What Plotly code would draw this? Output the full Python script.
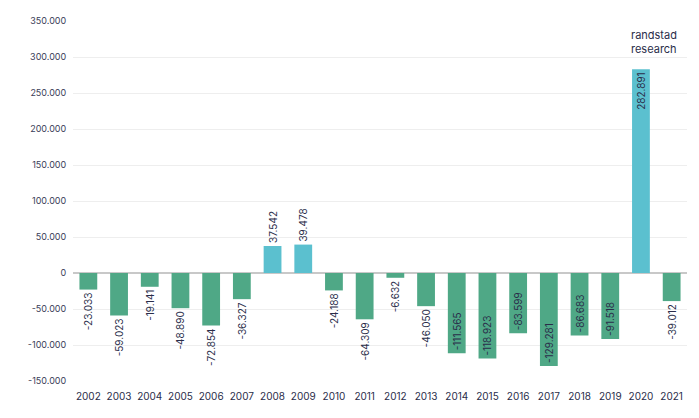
import plotly.graph_objects as go

years = [str(y) for y in range(2002, 2022)]
values = [-23033, -59023, -19141, -48890, -72854, -36327, 37542, 39478, -24188, -64309,
          -6632, -46050, -111565, -118923, -83599, -129281, -86683, -91518, 282891, -39012]
tick_vals = [-150000, -100000, -50000, 0, 50000, 100000, 150000, 200000, 250000, 300000, 350000]

GREEN = "#4fa886"
CYAN = "#5bc0cf"
TEXT = "#2a2d4a"

def fmt(v):
    s = f"{abs(v):,}".replace(",", ".")
    return ("-" if v < 0 else "") + s

colors = [CYAN if v > 0 else GREEN for v in values]
labels = [fmt(v) for v in values]
positions = ["inside" if abs(v) > 80000 else "outside" for v in values]

fig = go.Figure(go.Bar(
    x=years, y=values,
    marker=dict(color=colors, line=dict(width=0)),
    text=labels, textposition=positions, textangle=-90,
    insidetextanchor="end", constraintext="none",
    textfont=dict(family="Inter, sans-serif", size=10, color=TEXT),
    insidetextfont=dict(family="Inter, sans-serif", size=10, color=TEXT),
    outsidetextfont=dict(family="Inter, sans-serif", size=10, color=TEXT),
    cliponaxis=False,
))

fig.update_layout(
    width=699, height=418,
    margin=dict(l=73, r=12, t=21, b=37),
    paper_bgcolor="white", plot_bgcolor="white",
    bargap=0.42, showlegend=False,
    font=dict(family="Inter, sans-serif", color=TEXT),
    xaxis=dict(tickfont=dict(size=10, color=TEXT), showgrid=False, ticks="outside",
               ticklen=6, tickcolor="rgba(0,0,0,0)", showline=False),
    yaxis=dict(range=[-150000, 350000], tickvals=tick_vals, ticktext=[fmt(v) for v in tick_vals],
               tickfont=dict(size=9, color="#3a3d58"), gridcolor="#eeeeee", gridwidth=1,
               zeroline=True, zerolinecolor="#c8c8c8", zerolinewidth=2, ticks="outside",
               ticklen=4, tickcolor="rgba(0,0,0,0)"),
)
fig.add_annotation(text="randstad<br>research", xref="paper", yref="paper", x=0.905, y=0.985,
                   xanchor="left", yanchor="top", showarrow=False, align="left",
                   font=dict(family="Inter, sans-serif", size=11, color=TEXT))

fig.write_html("out.html", config={"displayModeBar": False},
               post_script="document.body.style.margin='0';")
